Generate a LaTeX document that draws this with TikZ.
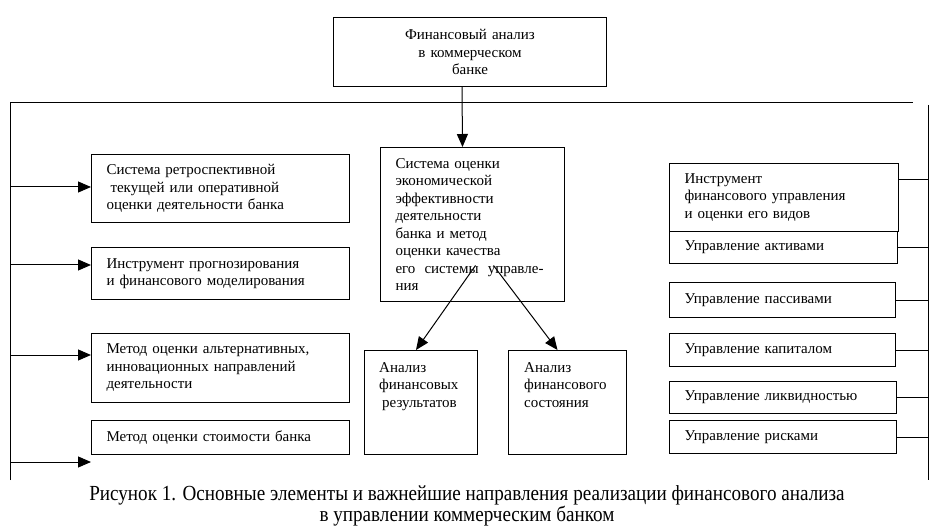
\documentclass[tikz,border=0pt]{standalone}
\usepackage{fontspec}
\setmainfont{Liberation Serif}
\newfontfamily\schmal[FakeStretch=0.89]{Liberation Serif}
\usetikzlibrary{arrows.meta}

\begin{document}
\begin{tikzpicture}[x=1pt,y=-1pt,
  schrift/.style={font=\fontsize{15}{17.5}\selectfont},
  kasten/.style={schrift, draw, line width=1pt, anchor=north west, align=left, inner xsep=15pt, inner ysep=0pt},
  pfeil/.style={-{Triangle[length=13pt,width=11pt]}, line width=1pt},
  linie/.style={line width=1pt}]
\useasboundingbox[fill=white] (0,0) rectangle (941,526);

% Oberster Kasten
\node[kasten, align=center, text width=243pt, minimum height=69pt] (fa) at (333,17) {Финансовый анализ\\в коммерческом\\банке};

% Rahmenlinien: links mit Pfeilen, rechts ohne
\coordinate (ltop) at (10,103);
\coordinate (lbot) at (10,480);
\coordinate (rtop) at (928,105);
\coordinate (rbot) at (928,480);
\draw[linie] (lbot) -- (ltop) -- (913,103);
\draw[linie] (rtop) -- (rbot);

% Mitte
\node[kasten, text width=154pt, minimum height=154pt] (sys) at (380,147) {Система оценки\\экономической\\эффективности\\деятельности\\банка и метод\\оценки качества\\\makebox[148pt][s]{его\hfill системы\hfill управле-}\\ния};
\draw[pfeil] ([xshift=-8pt]fa.south) -- ([xshift=-10pt]sys.north);

\node[kasten, minimum width=113pt, minimum height=104pt] (afr) at (364,350) {};
\node[schrift, anchor=north west, align=left, inner sep=0pt] (afr-t) at ([shift={(15,12)}]afr.north west) {Анализ\\финансовых\\\hspace*{3pt}результатов};
\node[kasten, minimum width=118pt, minimum height=104pt] (afs) at (508,350) {};
\node[schrift, anchor=north west, align=left, inner sep=0pt] (afs-t) at ([shift={(16,12)}]afs.north west) {Анализ\\финансового\\состояния};
\draw[pfeil] ([shift={(3,41)}]sys.center) -- ([xshift=-5pt]afr.north);
\draw[pfeil] ([shift={(21,41)}]sys.center) -- ([xshift=-10pt]afs.north);

% Linke Spalte
\node[kasten, text width=228pt, minimum height=68pt] (b1) at (91,154) {Система ретроспективной\\\hspace*{4pt}текущей или оперативной\\оценки деятельности банка};
\node[kasten, text width=228pt, minimum height=52pt] (b2) at (91,247) {Инструмент прогнозирования\\и финансового моделирования};
\node[kasten, text width=228pt, minimum height=69pt] (b3) at (91,333) {Метод оценки альтернативных,\\инновационных направлений\\деятельности};
\node[kasten, text width=228pt, minimum height=34pt] (b4) at (91,420) {Метод оценки стоимости банка};
\coordinate (l1) at (10,187);
\coordinate (l2) at (10,265);
\coordinate (l3) at (10,355);
\coordinate (l4) at (10,462);
\coordinate (l4e) at (91,462);
\draw[pfeil] (l1) -- (l1 -| b1.west);
\draw[pfeil] (l2) -- (l2 -| b2.west);
\draw[pfeil] (l3) -- (l3 -| b3.west);
\draw[pfeil] (l4) -- (l4e);

% Rechte Spalte
\node[kasten, text width=199pt, minimum height=68pt] (r1) at (669,163) {Инструмент\\финансового управления\\и оценки его видов};
\node[kasten, text width=198pt, minimum height=32pt] (r2) at (669,231) {Управление активами};
\node[kasten, text width=196pt, minimum height=35pt] (r3) at (669,282) {Управление пассивами};
\node[kasten, text width=196pt, minimum height=33pt] (r4) at (669,333) {Управление капиталом};
\node[kasten, text width=197pt, minimum height=32pt] (r5) at (669,381) {Управление ликвидностью};
\node[kasten, text width=197pt, minimum height=33pt] (r6) at (669,420) {Управление рисками};
\draw[linie] ([yshift=18pt]r1.east) -- ([yshift=18pt]r1.east -| rtop);
\draw[linie] (r2.east) -- (r2.east -| rtop);
\draw[linie] (r3.east) -- (r3.east -| rtop);
\draw[linie] (r4.east) -- (r4.east -| rtop);
\draw[linie] (r5.east) -- (r5.east -| rtop);
\draw[linie] (r6.east) -- (r6.east -| rtop);

% Unterschrift
\node[align=center, font=\schmal\fontsize{21.5}{21}\selectfont] (titel) at (467,506) {Рисунок 1. Основные элементы и важнейшие направления реализации финансового анализа\\в управлении коммерческим банком};
\end{tikzpicture}
\end{document}
